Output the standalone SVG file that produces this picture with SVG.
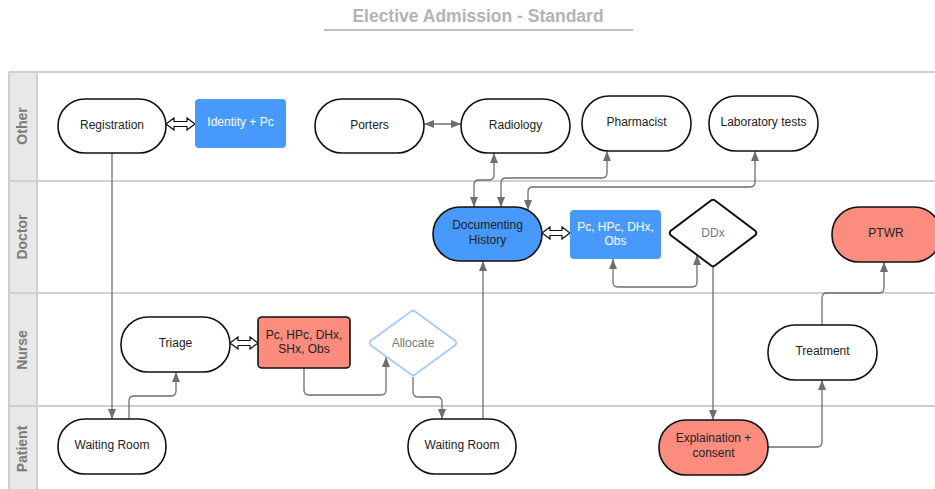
<svg xmlns="http://www.w3.org/2000/svg" width="935" height="489" viewBox="0 0 935 489">
<style>
text{font-family:"Liberation Sans",Arial,sans-serif;font-size:12px;text-anchor:middle;fill:#222}
.title{font-size:17.5px;font-weight:bold;fill:#b3b3b3}
.lane{font-size:14px;fill:#7a7a7a;font-weight:bold}
.node{stroke:#111;stroke-width:1.6;fill:#fff}
.blue{fill:#4799fb}
.salmon{fill:#fc8c7d}
.wt{fill:#fff}
.gt{fill:#777}
.conn path{fill:none;stroke:#6e6e6e;stroke-width:1.3}
.hollow{fill:#fff;stroke:#111;stroke-width:1.2}
.sep{stroke:#cfcfcf;stroke-width:2}
</style>
<defs>
<marker id="ah" viewBox="0 0 10 8" refX="10" refY="4" markerWidth="10" markerHeight="8" markerUnits="userSpaceOnUse" orient="auto-start-reverse">
<path d="M0,0 L10,4 L0,8 z" fill="#6e6e6e"/>
</marker>
</defs>
<rect width="935" height="489" fill="#fff"/>
<g id="title">
<text class="title" x="478" y="22">Elective Admission - Standard</text>
<line x1="324" y1="30" x2="633" y2="30" stroke="#bdbdbd" stroke-width="2"/>
</g>
<g id="lanes">
<rect x="9" y="72" width="28" height="417" fill="#e8e8e8"/>
<line class="sep" x1="9" y1="72" x2="935" y2="72"/>
<line class="sep" x1="9" y1="181" x2="935" y2="181"/>
<line class="sep" x1="9" y1="293" x2="935" y2="293"/>
<line class="sep" x1="9" y1="406" x2="935" y2="406"/>
<line class="sep" x1="9" y1="72" x2="9" y2="489"/>
<line class="sep" x1="37" y1="72" x2="37" y2="489"/>
<text class="lane" transform="translate(27,126) rotate(-90)">Other</text>
<text class="lane" transform="translate(27,237) rotate(-90)">Doctor</text>
<text class="lane" transform="translate(27,350) rotate(-90)">Nurse</text>
<text class="lane" transform="translate(27,449) rotate(-90)">Patient</text>
</g>
<g id="connectors" class="conn">
<path d="M112,153 V419" marker-end="url(#ah)"/>
<path d="M129,419 V401 Q129,396 134,396 H171 Q176,396 176,391 V372" marker-end="url(#ah)"/>
<path d="M424,124 H461" marker-start="url(#ah)" marker-end="url(#ah)"/>
<path d="M304,368 V390 Q304,395 309,395 H381 Q386,395 386,390 V357" marker-end="url(#ah)"/>
<path d="M413,377 V392 Q413,397 418,397 H437 Q442,397 442,402 V419" marker-end="url(#ah)"/>
<path d="M483,419 V261" marker-end="url(#ah)"/>
<path d="M474,207 V185 Q474,180 479,180 H489 Q494,180 494,175 V153" marker-start="url(#ah)" marker-end="url(#ah)"/>
<path d="M607,151 V173 Q607,178 602,178 H506 Q501,178 501,183 V207" marker-start="url(#ah)" marker-end="url(#ah)"/>
<path d="M755,151 V182 Q755,187 750,187 H533 Q528,187 528,192 V210" marker-start="url(#ah)" marker-end="url(#ah)"/>
<path d="M613,259 V282 Q613,287 618,287 H692 Q697,287 697,282 V255" marker-start="url(#ah)" marker-end="url(#ah)"/>
<path d="M713,267 V420" marker-end="url(#ah)"/>
<path d="M768,447 H817 Q822,447 822,442 V380" marker-end="url(#ah)"/>
<path d="M822,325 V298 Q822,293 827,293 H879 Q884,293 884,288 V262" marker-end="url(#ah)"/>
<polygon class="hollow" points="166,124 174,118 174,121.5 187,121.5 187,118 195,124 187,130 187,126.5 174,126.5 174,130"/>
<polygon class="hollow" points="230,343 238,337 238,340.5 250,340.5 250,337 258,343 250,349 250,345.5 238,345.5 238,349"/>
<polygon class="hollow" points="542,233 550,227 550,230.5 562,230.5 562,227 570,233 562,239 562,235.5 550,235.5 550,239"/>
</g>
<g id="registration"><rect class="node" x="58" y="99" width="108" height="54" rx="27"/><text x="112" y="129">Registration</text></g>
<g id="identity"><rect class="blue" x="195" y="99" width="91" height="49" rx="4"/><text class="wt" x="240.5" y="126">Identity + Pc</text></g>
<g id="porters"><rect class="node" x="315" y="99" width="109" height="54" rx="27"/><text x="369.5" y="129">Porters</text></g>
<g id="radiology"><rect class="node" x="461" y="99" width="109" height="54" rx="27"/><text x="515.5" y="129">Radiology</text></g>
<g id="pharmacist"><rect class="node" x="582" y="96" width="109" height="55" rx="27"/><text x="636.5" y="126">Pharmacist</text></g>
<g id="lab"><rect class="node" x="709" y="96" width="109" height="55" rx="27"/><text x="763.5" y="126">Laboratory tests</text></g>
<g id="documenting"><rect class="node blue" x="433" y="207" width="109" height="54" rx="27"/><text x="487.5" y="229">Documenting</text><text x="487.5" y="244">History</text></g>
<g id="doc-notes"><rect class="blue" x="570" y="210" width="91" height="49" rx="4"/><text class="wt" x="615.5" y="231">Pc, HPc, DHx,</text><text class="wt" x="615.5" y="245">Obs</text></g>
<g id="ddx"><path d="M711,200.5 Q713,199 715,200.5 L755.5,231 Q757,233 755.5,235 L715,265.5 Q713,267 711,265.5 L670.5,235 Q669,233 670.5,231 Z" fill="#fff" stroke="#111" stroke-width="2"/><text class="gt" x="713" y="237">DDx</text></g>
<g id="ptwr"><rect class="node salmon" x="832" y="207" width="109" height="55" rx="27"/><text x="886" y="237">PTWR</text></g>
<g id="triage"><rect class="node" x="121" y="317" width="109" height="55" rx="27"/><text x="175.5" y="347">Triage</text></g>
<g id="nurse-notes"><rect class="node salmon" x="258" y="317" width="92" height="51" rx="4"/><text x="304" y="339">Pc, HPc, DHx,</text><text x="304" y="353">SHx, Obs</text></g>
<g id="allocate"><path d="M411,311.5 Q413,310 415,311.5 L455.5,341 Q457,343 455.5,345 L415,374.5 Q413,376 411,374.5 L370.5,345 Q369,343 370.5,341 Z" fill="#fff" stroke="#a9cdfb" stroke-width="2"/><text class="gt" x="413" y="347">Allocate</text></g>
<g id="treatment"><rect class="node" x="768" y="325" width="109" height="55" rx="27"/><text x="822.5" y="355">Treatment</text></g>
<g id="waiting1"><rect class="node" x="58" y="419" width="108" height="55" rx="27"/><text x="112" y="449">Waiting Room</text></g>
<g id="waiting2"><rect class="node" x="408" y="419" width="108" height="55" rx="27"/><text x="462" y="449">Waiting Room</text></g>
<g id="explain"><rect class="node salmon" x="659" y="420" width="109" height="55" rx="27"/><text x="713.5" y="442">Explaination +</text><text x="713.5" y="457">consent</text></g>
</svg>
